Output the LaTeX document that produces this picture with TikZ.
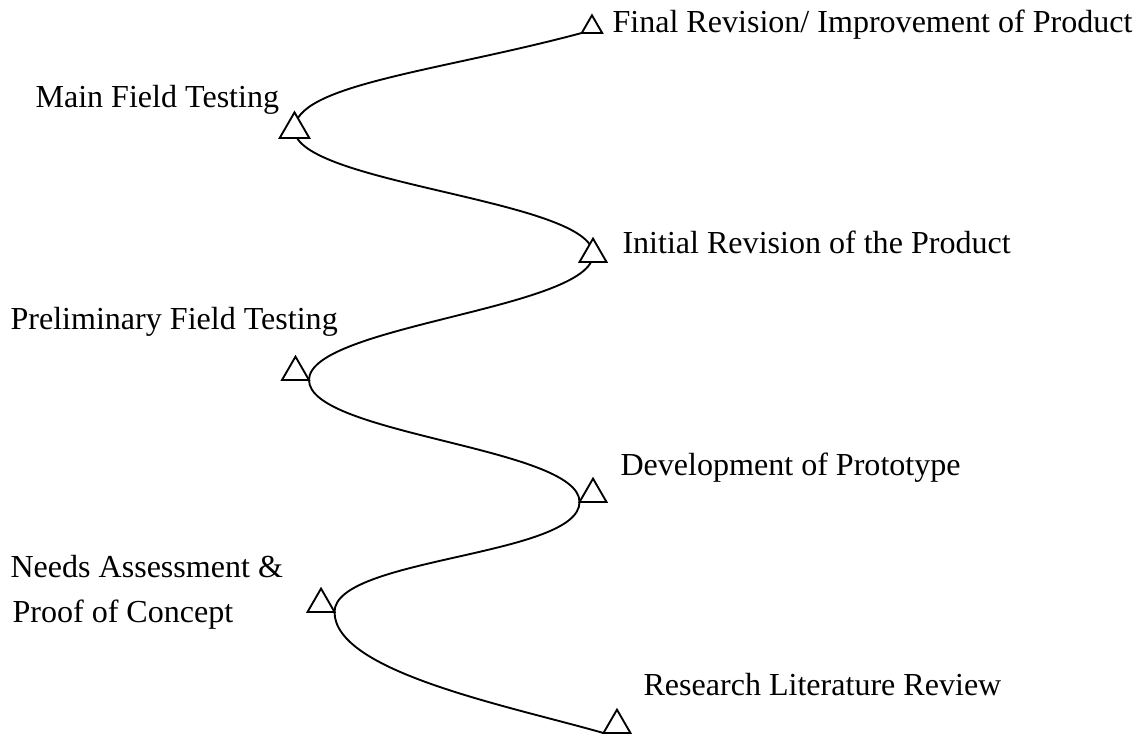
\documentclass[tikz,border=0pt]{standalone}
\usepackage{fontspec}
\setmainfont{Liberation Serif}
\usetikzlibrary{shapes.geometric,backgrounds}
\tikzstyle{marker} = [regular polygon, regular polygon sides=3, draw, fill=white, line width=0.7pt, minimum size=0.41cm, inner sep=0pt, outer sep=0pt, anchor=south]
\tikzstyle{stage} = [anchor=base west, inner sep=0pt, font=\fontsize{12}{14}\selectfont]
\tikzstyle{wave} = [line width=0.7pt]

\begin{document}
\begin{tikzpicture}
    \useasboundingbox (0,0) rectangle (15.013,9.684);

    % Triangles
    \node[marker, minimum size=0.31cm] (t1) at (7.789, 9.250) {};
    \node[marker, minimum size=0.45cm] (t2) at (3.875, 7.868) {};
    \node[marker] (t3) at (7.803, 6.237) {};
    \node[marker] (t4) at (3.888, 4.684) {};
    \node[marker] (t5) at (7.803, 3.079) {};
    \node[marker] (t6) at (4.224, 1.632) {};
    \node[marker] (t7) at (8.118, 0.039) {};

    % Curve
    \begin{scope}[on background layer]
    \draw[wave] (t1.corner 2) .. controls +(195:1.97) and +(0,0.59) .. (t2.center)
        .. controls +(0,-0.72) and +(0,0.72) .. (t3.center)
        .. controls +(0,-0.72) and +(0,0.72) .. (t4.corner 3)
        .. controls +(0,-0.72) and +(0,0.72) .. (t5.corner 2)
        .. controls +(0,-0.72) and +(0,0.72) .. (t6.corner 3)
        .. controls +(0,-0.79) and +(164:1.3) .. (t7.corner 2);
    \end{scope}

    % Labels
    \node[stage] (final) at (8.053, 9.250) {Final Revision/ Improvement of Product};
    \node[stage] (main) at (0.461, 8.276) {Main Field Testing};
    \node[stage] (initial) at (8.184, 6.342) {Initial Revision of the Product};
    \node[stage] (prelim) at (0.132, 5.342) {Preliminary Field Testing};
    \node[stage] (proto) at (8.158, 3.421) {Development of Prototype};
    \node[stage] (needs) at (0.132, 2.079) {Needs Assessment \&};
    \node[stage] (proof) at (0.158, 1.487) {Proof of Concept};
    \node[stage] (review) at (8.461, 0.539) {Research Literature Review};
\end{tikzpicture}
\end{document}
